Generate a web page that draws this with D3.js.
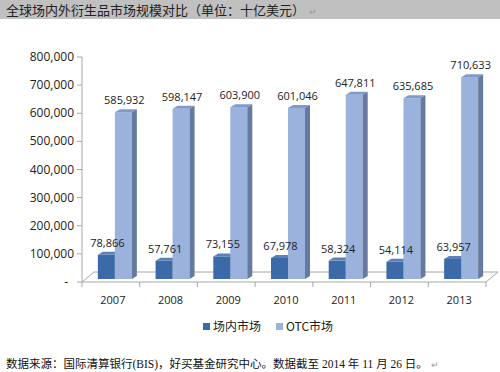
<!DOCTYPE html>
<html>
<head>
<meta charset="utf-8">
<script src="https://cdn.jsdelivr.net/npm/d3@7"></script>
<style>
  body { margin: 0; background: #fff; }
  svg { display: block; }
</style>
</head>
<body>
<div id="chart"></div>
<script>
// Data
const years = ['2007', '2008', '2009', '2010', '2011', '2012', '2013'];
const exchangeValues = [78866, 57761, 73155, 67978, 58324, 54114, 63957];
const otcValues = [585932, 598147, 603900, 601046, 647811, 635685, 710633];
const seriesNames = ['场内市场', 'OTC市场'];
const yTicks = [0, 100000, 200000, 300000, 400000, 500000, 600000, 700000, 800000];

const titleText = '全球场内外衍生品市场规模对比（单位：十亿美元）';
const sourceText = '数据来源：国际清算银行(BIS)，好买基金研究中心。数据截至 2014 年 11 月 26 日。';

// Colors
const colors = {
    dark: { front: '#3c69a7', top: '#5b80b8', side: '#2a4d7e' },
    light: { front: '#9bb3dc', top: '#7f9acb', side: '#66799e' }
};

const W = 500, H = 372;
const fontChart = '"Open Sans", "Liberation Sans", sans-serif';
const fontCJK = '"Noto Sans CJK SC", sans-serif';
const fontNote = '"Liberation Serif", "Noto Sans CJK SC", serif';

const svg = d3.select('#chart')
    .append('svg')
    .attr('width', W)
    .attr('height', H);

// Title bar
svg.append('rect')
    .attr('x', 0).attr('y', 0)
    .attr('width', W).attr('height', 19)
    .attr('fill', '#c0c0c0');

const title = svg.append('text')
    .attr('x', 6).attr('y', 15)
    .style('font-family', fontCJK)
    .style('font-size', '13px')
    .attr('fill', '#222')
    .text(titleText);
title.append('tspan')
    .attr('dx', 4)
    .style('font-size', '9px')
    .attr('fill', '#999')
    .text('↵');

// Plot geometry
const left = 82, right = 486, base = 282, topY = 57;
const depthX = 12, depthY = 10;  // floor depth
const barShiftY = 5;              // bars sit mid-depth

const x = d3.scaleBand()
    .domain(years)
    .range([left, right]);

const y = d3.scaleLinear()
    .domain([0, 800000])
    .range([base, topY]);

// Floor
svg.append('path')
    .attr('d', `M${left},${base} L${right},${base} L${right + depthX},${base - depthY} L${left + depthX},${base - depthY} Z`)
    .attr('fill', 'none')
    .attr('stroke', '#a6a6a6')
    .attr('stroke-width', 1);

// Y axis
svg.append('line')
    .attr('x1', left).attr('x2', left)
    .attr('y1', topY).attr('y2', base)
    .attr('stroke', '#a6a6a6');

svg.selectAll('.ytick')
    .data(yTicks)
    .enter()
    .append('line')
    .attr('x1', left - 5).attr('x2', left)
    .attr('y1', d => y(d)).attr('y2', d => y(d))
    .attr('stroke', '#a6a6a6');

svg.selectAll('.ylabel')
    .data(yTicks)
    .enter()
    .append('text')
    .attr('x', d => d === 0 ? 68 : 74)
    .attr('y', d => y(d) + 4)
    .attr('text-anchor', 'end')
    .style('font-family', fontChart)
    .style('font-size', '12px')
    .attr('fill', '#222')
    .text(d => d === 0 ? '-' : d3.format(',')(d));

// X axis ticks and labels
const bounds = years.map(d => x(d)).concat([right]);
svg.selectAll('.xtick')
    .data(bounds)
    .enter()
    .append('line')
    .attr('x1', d => d).attr('x2', d => d)
    .attr('y1', base).attr('y2', base + 5)
    .attr('stroke', '#a6a6a6');

svg.selectAll('.xlabel')
    .data(years)
    .enter()
    .append('text')
    .attr('x', d => x(d) + x.bandwidth() / 2 + 2)
    .attr('y', 304)
    .attr('text-anchor', 'middle')
    .style('font-family', fontChart)
    .style('font-size', '11px')
    .attr('fill', '#222')
    .text(d => d);

// 3D bar helper
const barW = 17, bx = 5, by = 3;
function drawBar(x0, value, c) {
    const yTop = y(value) - barShiftY;
    const yBot = base - barShiftY + 2;
    const g = svg.append('g');
    g.append('rect')
        .attr('x', x0).attr('y', yTop)
        .attr('width', barW).attr('height', yBot - yTop)
        .attr('fill', c.front);
    g.append('path')
        .attr('d', `M${x0},${yTop} L${x0 + bx},${yTop - by} L${x0 + barW + bx},${yTop - by} L${x0 + barW},${yTop} Z`)
        .attr('fill', c.top);
    g.append('path')
        .attr('d', `M${x0 + barW},${yTop} L${x0 + barW + bx},${yTop - by} L${x0 + barW + bx},${yBot - by} L${x0 + barW},${yBot} Z`)
        .attr('fill', c.side);
    return yTop - by;
}

years.forEach((yr, i) => {
    const cx = x(yr) + x.bandwidth() / 2 + 4;
    const t1 = drawBar(cx - barW, exchangeValues[i], colors.dark);
    const t2 = drawBar(cx, otcValues[i], colors.light);

    svg.append('text')
        .attr('x', cx - barW / 2 + 1)
        .attr('y', t1 - 5)
        .attr('text-anchor', 'middle')
        .style('font-family', fontChart)
        .style('font-size', '11px')
        .attr('fill', '#222')
        .text(d3.format(',')(exchangeValues[i]));

    svg.append('text')
        .attr('x', cx + barW / 2 + 1)
        .attr('y', t2 - 5)
        .attr('text-anchor', 'middle')
        .style('font-family', fontChart)
        .style('font-size', '11px')
        .attr('fill', '#222')
        .text(d3.format(',')(otcValues[i]));
});

// Legend
const legendItems = [
    { name: seriesNames[0], color: colors.dark.front, x: 203 },
    { name: seriesNames[1], color: colors.light.front, x: 276 }
];
legendItems.forEach(item => {
    svg.append('rect')
        .attr('x', item.x).attr('y', 323)
        .attr('width', 7).attr('height', 7)
        .attr('fill', item.color);
    svg.append('text')
        .attr('x', item.x + 10).attr('y', 331)
        .style('font-family', fontCJK)
        .style('font-size', '12px')
        .attr('fill', '#222')
        .text(item.name);
});

// Source note
const note = svg.append('text')
    .attr('x', 6).attr('y', 368)
    .style('font-family', fontNote)
    .style('font-size', '11.5px')
    .attr('fill', '#111')
    .text(sourceText);
note.append('tspan')
    .attr('dx', 3)
    .style('font-size', '9px')
    .attr('fill', '#999')
    .text('↵');
</script>
</body>
</html>
